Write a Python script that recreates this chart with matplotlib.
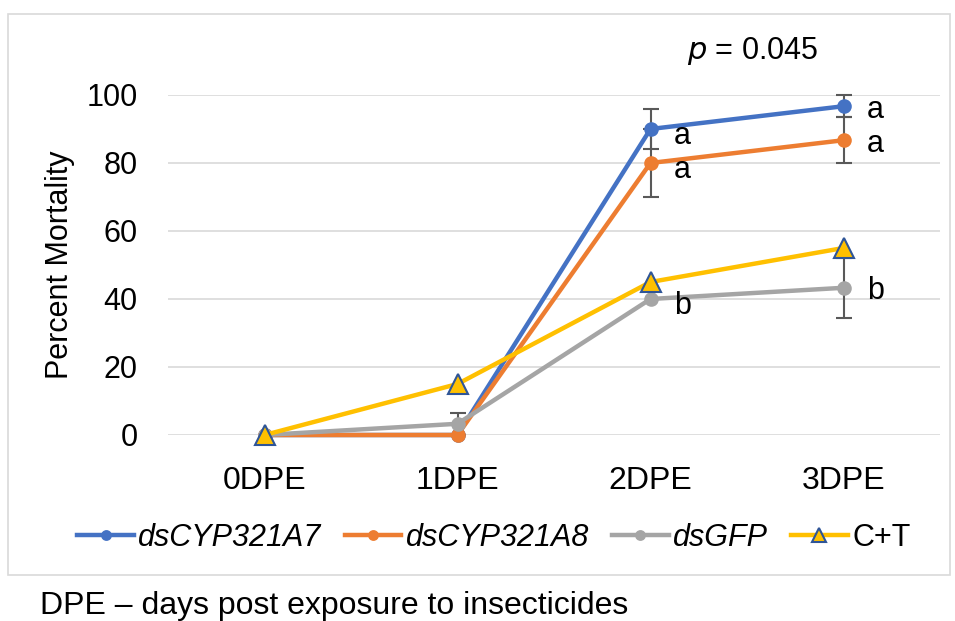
import matplotlib.pyplot as plt
from matplotlib.patches import Rectangle

plt.rcParams['font.family'] = ['Liberation Sans', 'DejaVu Sans']

days = ['0DPE', '1DPE', '2DPE', '3DPE']
a7 = [0, 0, 90, 96.7]
a7_err = [0, 0, 6, 3.3]
a8 = [0, 0, 80, 86.7]
a8_err = [0, 0, 10, 6.7]
gfp = [0, 3.3, 40, 43.3]
gfp_err = [0, 3.3, 0, 8.8]
ct = [0, 15, 45, 55]

# significance letters at 2DPE and 3DPE
letters_2 = [('a', 90), ('a', 80), ('b', 40)]
letters_3 = [('a', 96.7), ('a', 86.7), ('b', 43.3)]

FS = 22

fig = plt.figure(figsize=(9.55, 6.21), dpi=100)
fig.patches.append(Rectangle((8 / 955, 1 - 575 / 621), 942 / 955, 561 / 621,
                             transform=fig.transFigure, fill=False,
                             edgecolor='#d9d9d9', linewidth=1.2))

ax = fig.add_axes([168 / 955, 1 - 435 / 621, 772 / 955, 340 / 621])
x = range(len(days))

def series(y, err, color, label, marker='o', ms=9, mec=None):
    line, = ax.plot(x, y, color=color, linewidth=3.2, marker=marker,
                    markersize=ms, markerfacecolor=color,
                    markeredgecolor=mec or color, markeredgewidth=1.5,
                    label=label, clip_on=False, zorder=3)
    if err is not None:
        idx = [i for i, e in enumerate(err) if e > 0]
        ax.errorbar(idx, [y[i] for i in idx], yerr=[err[i] for i in idx],
                    fmt='none', ecolor='#595959', elinewidth=1.5, capsize=6,
                    capthick=1.5, zorder=2, clip_on=False)
    return line

series(a7, a7_err, '#4472C4', 'dsCYP321A7')
series(a8, a8_err, '#ED7D31', 'dsCYP321A8')
series(gfp, gfp_err, '#A5A5A5', 'dsGFP')
series(ct, None, '#FFC000', 'C+T', marker='^', ms=15, mec='#2F5597')

ax.set_xlim(-0.5, 3.5)
ax.set_ylim(0, 100)
ax.set_yticks(range(0, 101, 20))
ax.set_xticks(list(x))
ax.set_xticklabels(days)
ax.tick_params(length=0, labelsize=FS)
ax.tick_params(axis='y', pad=22)
ax.tick_params(axis='x', pad=22, labelsize=23)
ax.grid(axis='y', color='#d9d9d9', linewidth=1.2)
ax.set_axisbelow(True)
for s in ax.spines.values():
    s.set_visible(False)
ax.set_ylabel('Percent Mortality', fontsize=FS, labelpad=8)

for letter, yv in letters_2:
    ax.text(2.12, yv - 2, letter, fontsize=FS, va='center', ha='left')
for letter, yv in letters_3:
    ax.text(3.12, yv - 1, letter, fontsize=FS, va='center', ha='left')

ax.text(2.53, 113, r'$\it{p}$ = 0.045', fontsize=FS, ha='center', va='center')

leg = ax.legend(loc='center', bbox_to_anchor=(494 / 955, 1 - 538 / 621),
                bbox_transform=fig.transFigure, ncol=4, frameon=False,
                prop={'size': 22}, handlelength=1.85, handletextpad=0.15,
                columnspacing=0.75, markerscale=0.7)
for t in leg.get_texts()[:3]:
    t.set_fontstyle('italic')

fig.text(40 / 955, 1 - 606 / 621, 'DPE – days post exposure to insecticides',
         fontsize=23, va='center', ha='left')

fig.savefig('out.png', dpi=100)
